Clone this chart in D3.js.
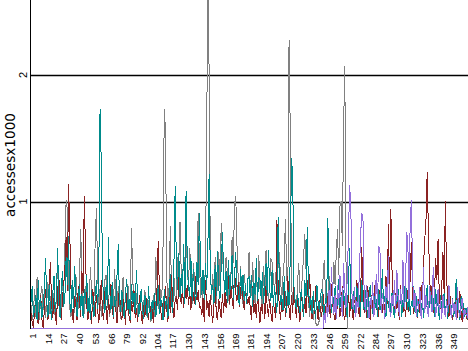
<!DOCTYPE html>
<html>
<head>
<meta charset="utf-8">
<script src="https://cdn.jsdelivr.net/npm/d3@7"></script>
<style>
  body { margin: 0; background: #fff; }
  svg { display: block; }
  .tick text { font-family: "Liberation Sans", sans-serif; fill: #000; }
</style>
</head>
<body>
<svg class="chart"></svg>
<script>
// daily accesses (one value per day), in accesses
var gray = [
  180, 60, 120, 310, 90, 400, 150, 60, 260, 330,
  140, 290, 80, 200, 360, 110, 250, 70, 300, 170,
  90, 240, 560, 330, 180, 120, 410, 280, 650, 1010,
  940, 380, 160, 90, 300, 220, 120, 430, 260, 150,
  360, 780, 420, 200, 110, 330, 250, 90, 160, 480,
  290, 130, 240, 700, 950, 420, 180, 310, 90, 220,
  150, 380, 420, 160, 260, 90, 200, 310, 140, 470,
  230, 110, 330, 180, 70, 260, 400, 150, 90, 210,
  350, 120, 240, 790, 380, 200, 130, 280, 90, 160,
  240, 110, 60, 190, 300, 140, 80, 220, 160, 50,
  120, 260, 90, 560, 380, 200, 120, 310, 240, 650,
  1730, 1560, 420, 180, 330, 810, 260, 150, 400, 230,
  220, 560, 520, 840, 430, 290, 640, 380, 850, 460,
  330, 630, 440, 190, 510, 380, 260, 470, 910, 560,
  240, 330, 180, 120, 600, 1410, 3000, 2020, 520, 220,
  430, 250, 560, 190, 380, 600, 330, 830, 620, 390,
  320, 560, 450, 240, 180, 410, 720, 510, 980, 1040,
  660, 400, 230, 490, 270, 190, 430, 310, 210, 360,
  600, 320, 250, 520, 280, 190, 450, 220, 580, 310,
  240, 170, 490, 280, 620, 330, 210, 360, 550, 520,
  410, 290, 440, 260, 500, 600, 380, 230, 410, 530,
  860, 450, 200, 2280, 1550, 380, 160, 300, 220, 120,
  360, 510, 280, 240, 430, 560, 740, 460, 300, 220,
  90, 230, 150, 60, 200, 40, 20, 30, 60, 110,
  220, 380, 540, 300, 160, 250, 410, 190, 120, 280,
  520, 340, 600, 780, 420, 960, 1000, 650, 1570, 2070,
  520, 0, 0, 0, 0, 0, 0, 0, 0, 0,
  0, 0, 0, 0, 0, 0, 0, 0, 0, 0,
  0, 0, 0, 0, 0, 0, 0, 0, 0, 0,
  0, 0, 0, 0, 0, 0, 0, 0, 0, 0,
  0, 0, 0, 0, 0, 0, 0, 0, 0, 0,
  0, 0, 0, 0, 0, 0, 0, 0, 0, 0,
  0, 0, 0, 0, 0, 0, 0, 0, 0, 0,
  0, 0, 0, 0, 0, 0, 0, 0, 0, 0,
  0, 0, 0, 0, 0, 0, 0, 0, 0, 0,
  0, 0, 0, 0, 0, 0, 0, 0, 0, 0,
  0, 0, 0, 0, 0
];

var red = [
  120, 40, 0, 150, 220, 90, 30, 180, 260, 70,
  0, 140, 310, 200, 60, 350, 520, 190, 80, 240,
  130, 20, 300, 410, 160, 60, 230, 350, 480, 720,
  290, 1140, 760, 310, 120, 40, 250, 180, 60, 330,
  210, 90, 450, 280, 1040, 600, 180, 60, 240, 120,
  30, 310, 180, 90, 260, 140, 40, 200, 380, 120,
  60, 290, 160, 30, 230, 110, 350, 180, 70, 250,
  140, 40, 190, 320, 110, 60, 230, 150, 20, 280,
  170, 90, 40, 210, 130, 300, 80, 160, 50, 190,
  260, 110, 30, 180, 90, 240, 140, 60, 200, 80,
  150, 40, 230, 120, 310, 690, 280, 140, 60, 200,
  90, 330, 160, 50, 250, 120, 420, 180, 80, 220,
  240, 140, 400, 260, 190, 310, 160, 450, 230, 340,
  180, 290, 140, 360, 250, 190, 410, 220, 300, 160,
  170, 100, 240, 50, 380, 140, 210, 90, 260, 130,
  40, 190, 320, 110, 60, 230, 150, 80, 270, 120,
  300, 160, 250, 410, 190, 340, 230, 150, 480, 270,
  210, 360, 170, 290, 400, 220, 140, 310, 240, 190,
  250, 160, 60, 330, 120, 200, 80, 280, 150, 40,
  190, 110, 260, 70, 340, 160, 90, 230, 120, 50,
  210, 140, 80, 850, 320, 170, 60, 240, 130, 300,
  90, 180, 410, 150, 60, 260, 120, 340, 190, 80,
  230, 140, 50, 310, 170, 90, 260, 120, 380, 200,
  430, 150, 70, 240, 110, 330, 180, 60, 220, 140,
  90, 270, 160, 40, 310, 130, 220, 80, 350, 190,
  110, 60, 240, 150, 280, 90, 170, 330, 120, 60,
  200, 140, 310, 90, 230, 160, 60, 280, 130, 380,
  170, 90, 240, 640, 310, 120, 200, 80, 330, 150,
  60, 260, 180, 110, 350, 140, 220, 90, 300, 170,
  120, 250, 80, 410, 190, 820, 310, 940, 450, 160,
  90, 280, 150, 210, 60, 340, 170, 120, 250, 90,
  190, 300, 130, 410, 680, 220, 110, 260, 150, 80,
  230, 120, 340, 180, 500, 700, 840, 1230, 770, 420,
  190, 330, 120, 260, 550, 380, 700, 240, 150, 310,
  600, 280, 1000, 420, 180, 90, 250, 130, 60, 200,
  110, 240, 80, 160, 290, 120, 50, 180, 90, 140,
  60, 200, 110, 40, 90
];

var teal = [
  200, 330, 90, 150, 260, 60, 380, 120, 240, 80,
  170, 300, 550, 210, 90, 340, 160, 60, 280, 410,
  130, 250, 630, 190, 80, 320, 450, 170, 260, 560,
  340, 730, 210, 120, 380, 160, 490, 270, 90, 230,
  350, 140, 270, 80, 310, 190, 420, 130, 250, 60,
  300, 180, 90, 240, 380, 150, 460, 1730, 1300, 410,
  210, 120, 340, 180, 720, 290, 140, 360, 90, 250,
  170, 420, 660, 220, 130, 300, 160, 80, 270, 390,
  140, 230, 60, 350, 190, 280, 120, 460, 240, 90,
  200, 310, 140, 70, 260, 180, 90, 330, 150, 60,
  220, 130, 280, 90, 170, 340, 110, 240, 180, 60,
  310, 150, 230, 80, 260, 430, 190, 120, 520, 1120,
  480, 300, 590, 240, 430, 280, 660, 190, 1080, 520,
  330, 250, 550, 210, 470, 290, 180, 520, 340, 910,
  480, 260, 460, 220, 510, 300, 650, 1220, 430, 270,
  340, 190, 500, 250, 610, 310, 230, 480, 760, 430,
  280, 450, 200, 540, 260, 410, 580, 220, 390, 600,
  330, 250, 180, 470, 270, 420, 210, 340, 190, 390,
  400, 240, 420, 170, 360, 260, 550, 210, 400, 380,
  230, 440, 190, 380, 510, 250, 620, 300, 210, 460,
  170, 330, 220, 120, 880, 360, 180, 250, 140, 410,
  230, 120, 300, 180, 560, 1340, 1200, 340, 210, 150,
  270, 190, 120, 310, 220, 90, 380, 250, 800, 330,
  160, 240, 110, 290, 180, 70, 340, 200, 130, 260,
  310, 180, 90, 240, 150, 870, 360, 200, 120, 280,
  170, 330, 90, 240, 390, 160, 260, 110, 300, 180,
  220, 80, 350, 630, 240, 150, 290, 120, 210, 330,
  160, 260, 90, 380, 210, 140, 300, 170, 80, 250,
  340, 190, 110, 270, 160, 230, 90, 310, 140, 200,
  470, 180, 250, 90, 320, 160, 230, 120, 280, 150,
  80, 240, 190, 310, 130, 260, 90, 220, 160, 400,
  240, 140, 290, 100, 210, 170, 330, 120, 250, 90,
  180, 300, 140, 220, 80, 270, 160, 340, 110, 200,
  290, 130, 240, 90, 310, 170, 220, 60, 260, 150,
  190, 280, 110, 230, 70, 300, 160, 120, 240, 90,
  210, 390, 140, 180, 60, 250, 120, 200, 90, 160,
  110, 60, 180, 90, 40
];

var purple = [
  0, 0, 0, 0, 0, 0, 0, 0, 0, 0,
  0, 0, 0, 0, 0, 0, 0, 0, 0, 0,
  0, 0, 0, 0, 0, 0, 0, 0, 0, 0,
  0, 0, 0, 0, 0, 0, 0, 0, 0, 0,
  0, 0, 0, 0, 0, 0, 0, 0, 0, 0,
  0, 0, 0, 0, 0, 0, 0, 0, 0, 0,
  0, 0, 0, 0, 0, 0, 0, 0, 0, 0,
  0, 0, 0, 0, 0, 0, 0, 0, 0, 0,
  0, 0, 0, 0, 0, 0, 0, 0, 0, 0,
  0, 0, 0, 0, 0, 0, 0, 0, 0, 0,
  0, 0, 0, 0, 0, 0, 0, 0, 0, 0,
  0, 0, 0, 0, 0, 0, 0, 0, 0, 0,
  0, 0, 0, 0, 0, 0, 0, 0, 0, 0,
  0, 0, 0, 0, 0, 0, 0, 0, 0, 0,
  0, 0, 0, 0, 0, 0, 0, 0, 0, 0,
  0, 0, 0, 0, 0, 0, 0, 0, 0, 0,
  0, 0, 0, 0, 0, 0, 0, 0, 0, 0,
  0, 0, 0, 0, 0, 0, 0, 0, 0, 0,
  0, 0, 0, 0, 0, 0, 0, 0, 0, 0,
  0, 0, 0, 0, 0, 0, 0, 0, 0, 0,
  0, 0, 0, 0, 0, 0, 0, 0, 0, 0,
  0, 0, 0, 0, 0, 0, 0, 0, 0, 0,
  0, 0, 0, 0, 0, 0, 0, 0, 0, 0,
  0, 0, 0, 0, 0, 0, 0, 0, 0, 0,
  0, 0, 120, 40, 200, 90, 300, 150, 480, 220,
  110, 260, 70, 340, 180, 420, 230, 90, 510, 300,
  160, 380, 720, 1130, 960, 250, 140, 320, 90, 210,
  160, 430, 720, 910, 880, 260, 130, 340, 180, 80,
  240, 150, 360, 90, 200, 430, 160, 640, 630, 120,
  280, 190, 70, 330, 220, 570, 140, 90, 260, 170,
  380, 120, 460, 240, 90, 310, 180, 540, 150, 230,
  760, 690, 210, 850, 1010, 400, 160, 280, 90, 230,
  140, 320, 70, 190, 480, 120, 260, 160, 90, 330,
  200, 130, 480, 240, 90, 180, 310, 120, 220, 70,
  260, 150, 90, 210, 130, 340, 160, 80, 230, 120,
  190, 60, 320, 130, 90, 180, 240, 70, 150, 110,
  90, 200, 60, 130, 80
];

var xTickLabels = [1, 14, 27, 40, 53, 66, 79, 92, 104, 117, 130, 143, 156, 169,
  181, 194, 207, 220, 233, 246, 259, 272, 284, 297, 310, 323, 336, 349];
var yTickValues = [1, 2];

var series = [
  {name: 'gray', color: '#808080', values: gray},
  {name: 'red', color: '#8b2323', values: red},
  {name: 'teal', color: '#008b8b', values: teal},
  {name: 'purple', color: '#9370db', values: purple}
];

var width = 468, height = 351;
var margin = {top: 0, right: 0, bottom: 23, left: 31};

var chart = d3.select('.chart')
  .attr('width', width)
  .attr('height', height);

chart.append('rect')
  .attr('width', width)
  .attr('height', height)
  .attr('fill', '#fff');

var x = d3.scaleLinear().domain([1, 365]).range([margin.left, 472]);
var y = d3.scaleLinear().domain([0, 2]).range([328, 75]);

// grid lines at 1 and 2
chart.selectAll('.grid')
  .data(yTickValues)
  .enter().append('line')
    .attr('class', 'grid')
    .attr('x1', margin.left)
    .attr('x2', width)
    .attr('y1', function(d) { return Math.round(y(d)) + 0.5; })
    .attr('y2', function(d) { return Math.round(y(d)) + 0.5; })
    .attr('stroke', '#000')
    .attr('stroke-width', 1.3);

// bottom axis line, under the series
chart.append('line')
  .attr('x1', margin.left).attr('x2', width)
  .attr('y1', y(0) + 0.5).attr('y2', y(0) + 0.5)
  .attr('stroke', '#000');

var line = d3.line()
  .x(function(d, i) { return x(i + 1); })
  .y(function(d) { return y(d / 1000); });

chart.append('g')
  .selectAll('path')
  .data(series)
  .enter().append('path')
    .attr('fill', 'none')
    .attr('stroke', function(d) { return d.color; })
    .attr('stroke-width', 1)
    .attr('shape-rendering', 'crispEdges')
    .attr('d', function(d) { return line(d.values); });

// x axis, labels turned on their side
var xAxis = chart.append('g')
  .attr('class', 'axis axis--x')
  .attr('transform', 'translate(0,' + (y(0) + 0.5) + ')')
  .call(d3.axisBottom(x).tickValues(xTickLabels).tickSize(0).tickFormat(d3.format('d')));

xAxis.select('.domain').remove();
xAxis.selectAll('text')
  .attr('font-size', 9.6)
  .attr('transform', 'rotate(-90)')
  .attr('text-anchor', 'end')
  .attr('x', -5)
  .attr('y', 1)
  .attr('dy', '0.35em');

// left axis line
chart.append('line')
  .attr('x1', margin.left - 0.5).attr('x2', margin.left - 0.5)
  .attr('y1', 0).attr('y2', y(0) + 1)
  .attr('stroke', '#000');

// y tick labels, also on their side
chart.selectAll('.ylab')
  .data(yTickValues)
  .enter().append('text')
    .attr('class', 'ylab')
    .attr('transform', function(d) { return 'translate(27,' + y(d) + ') rotate(-90)'; })
    .attr('text-anchor', 'middle')
    .attr('font-family', 'Liberation Sans, sans-serif')
    .attr('font-size', 11)
    .text(function(d) { return d; });

chart.append('text')
  .attr('transform', 'translate(15,165) rotate(-90)')
  .attr('text-anchor', 'middle')
  .attr('font-family', 'DejaVu Sans, sans-serif')
  .attr('font-size', 13.6)
  .text('accessesx1000');
</script>
</body>
</html>
